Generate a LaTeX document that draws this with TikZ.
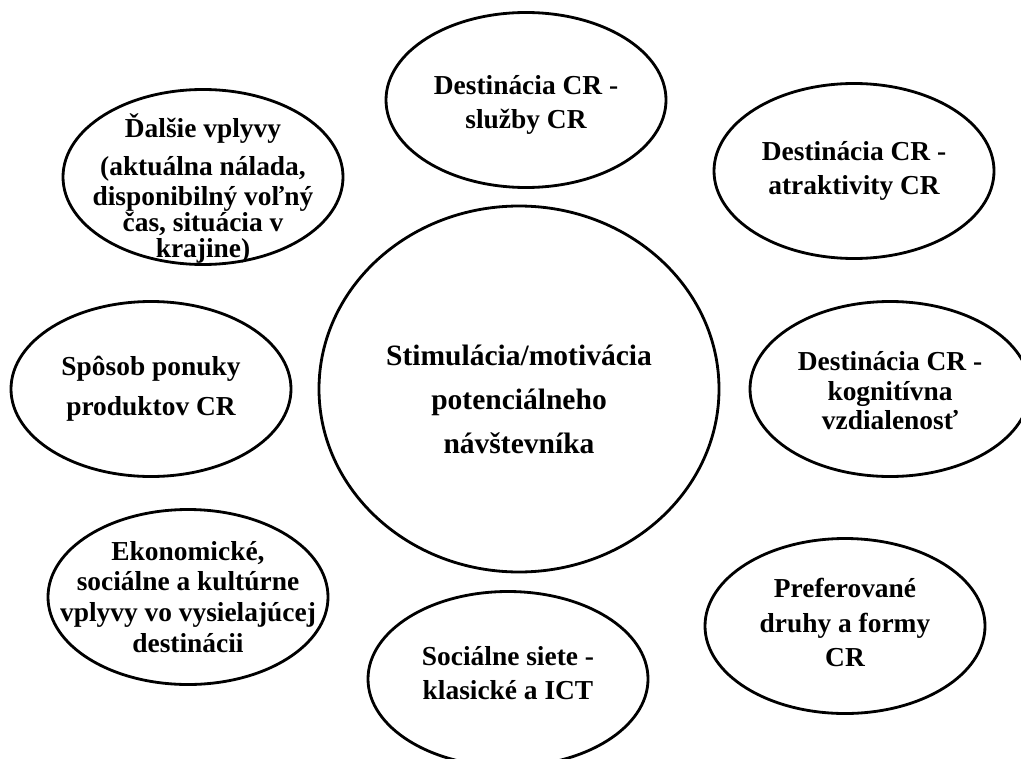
\documentclass[tikz,border=0pt]{standalone}
\usepackage{fontspec}
\setmainfont{Liberation Serif}
\usetikzlibrary{shapes.geometric, positioning, calc}

\begin{document}
\begin{tikzpicture}
  \tikzstyle{bubble} = [ellipse,draw,line width=2pt,minimum width=7cm,minimum height=4.375cm,inner sep=0pt]
  \tikzstyle{txt} = [align=center,font=\bfseries\fontsize{19.5}{24.5}\selectfont,inner sep=0pt]
  \useasboundingbox (0,0) rectangle (25.525,18.95);
  \clip (0,0) rectangle (25.525,18.95);
  % stred
  \node[ellipse,draw,line width=2pt,minimum width=10cm,minimum height=9.15cm] at (12.975,9.225) (S) {};
  \node[txt,font=\bfseries\fontsize{21}{31.3}\selectfont] at ($(S)+(0,-0.27)$) (St) {Stimulácia/motivácia\\potenciálneho\\návštevníka};
  % okolie
  \node[bubble] at (5.075,14.525) (V) {};
  \node[bubble] at (13.15,16.45) (D1) {};
  \node[bubble] at (21.35,14.675) (D2) {};
  \node[bubble] at (22.25,9.225) (D3) {};
  \node[bubble] at (21.125,3.3) (P) {};
  \node[bubble] at (12.7,1.975) (N) {};
  \node[bubble] at (4.7,4.025) (E) {};
  \node[bubble] at (3.775,9.225) (O) {};
  \node[txt,font=\bfseries\fontsize{19.5}{18.5}\selectfont] at ($(V)+(0,-0.28)$) (Vt)
    {Ďalšie vplyvy\\[8.5pt](aktuálna nálada,\\[2.8pt] disponibilný voľný\\čas, situácia v\\krajine)};
  \node[txt,font=\bfseries\fontsize{19.5}{24.2}\selectfont] at ($(D1)+(0,-0.12)$) (D1t) {Destinácia CR -\\služby CR};
  \node[txt] at (D2) (D2t) {Destinácia CR -\\atraktivity CR};
  \node[txt,font=\bfseries\fontsize{19.5}{21}\selectfont] at ($(D3)+(0,-0.05)$) (D3t) {Destinácia CR -\\kognitívna\\vzdialenosť};
  \node[txt] at ($(P)+(0,0.08)$) (Pt) {Preferované\\druhy a formy\\CR};
  \node[txt] at ($(N)+(0,0.15)$) (Nt) {Sociálne siete -\\klasické a ICT};
  \node[txt,font=\bfseries\fontsize{19.5}{22}\selectfont] at (E) (Et) {Ekonomické,\\sociálne a kultúrne\\vplyvy vo vysielajúcej\\destinácii};
  \node[txt,font=\bfseries\fontsize{19.5}{28.5}\selectfont] at (O) (Ot) {Spôsob ponuky\\produktov CR};
\end{tikzpicture}
\end{document}
